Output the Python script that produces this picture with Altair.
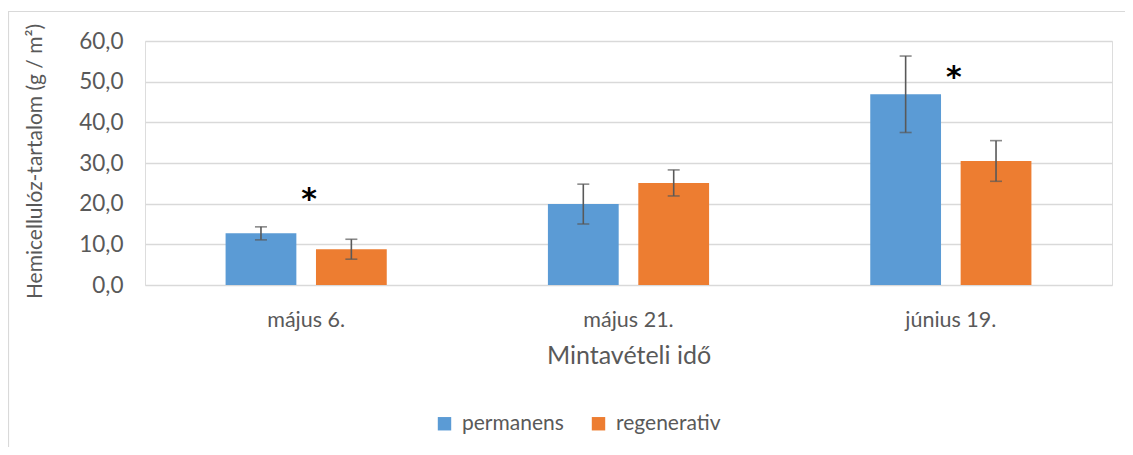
import altair as alt
import pandas as pd

categories = ["május 6.", "május 21.", "június 19."]
series = ["permanens", "regenerativ"]
permanens = [12.7, 19.9, 46.9]
permanens_err = [1.6, 4.9, 9.4]
regenerativ = [8.8, 25.1, 30.5]
regenerativ_err = [2.45, 3.2, 5.0]
star_categories = ["május 6.", "június 19."]
star_values = [21.0, 51.0]

rows = []
for i, c in enumerate(categories):
    rows.append({"cat": c, "series": "permanens", "v": permanens[i],
                 "lo": permanens[i] - permanens_err[i], "hi": permanens[i] + permanens_err[i]})
    rows.append({"cat": c, "series": "regenerativ", "v": regenerativ[i],
                 "lo": regenerativ[i] - regenerativ_err[i], "hi": regenerativ[i] + regenerativ_err[i]})
df = pd.DataFrame(rows)
stars = pd.DataFrame({"cat": star_categories, "v": star_values, "t": ["*", "*"]})

FONT = "Lato"
GREY = "#595959"

xscale = alt.Scale(domain=categories, paddingInner=0.5, paddingOuter=0.25)
xoff_scale = alt.Scale(domain=series, paddingInner=0.217, paddingOuter=0)
yscale = alt.Scale(domain=[0, 60], nice=False)

x = alt.X("cat:N", scale=xscale, sort=categories,
          axis=alt.Axis(title="Mintavételi idő", labelAngle=0, ticks=False, domain=False,
                        labelPadding=24, labelFontSize=21.5, labelColor=GREY, labelFont=FONT,
                        titleFontSize=25, titleFont=FONT, titleColor=GREY, titleFontWeight="normal",
                        titleY=70, titleBaseline="middle"))
y = alt.Y("v:Q", scale=yscale,
          axis=alt.Axis(title="Hemicellulóz-tartalom (g / m²)", values=[0, 10, 20, 30, 40, 50, 60],
                        format=".1f", labelExpr="replace(datum.label, '.', ',')",
                        ticks=False, domain=False, labelPadding=22, labelFontSize=22.5,
                        labelColor=GREY, labelFont=FONT, gridColor="#d9d9d9", gridWidth=1.3,
                        titleFontSize=21, titleFont=FONT, titleColor=GREY, titleFontWeight="normal",
                        titleX=-110, titleY=120, titleAngle=-90, titleAlign="center",
                        titleBaseline="middle"))

bars = alt.Chart(df).mark_bar().encode(
    x=x,
    xOffset=alt.XOffset("series:N", scale=xoff_scale, sort=series),
    y=y,
    color=alt.Color("series:N", sort=series,
                    scale=alt.Scale(domain=series, range=["#5B9BD5", "#ED7D31"]),
                    legend=alt.Legend(title=None, orient="none", direction="horizontal",
                                      legendX=289, legendY=372, symbolType="square",
                                      symbolSize=180, symbolStrokeWidth=0, labelFontSize=21,
                                      labelFont=FONT, labelColor=GREY, columnPadding=24,
                                      labelOffset=7)),
)

rules = alt.Chart(df).mark_rule(color=GREY, strokeWidth=1.6).encode(
    x=alt.X("cat:N", scale=xscale, sort=categories),
    xOffset=alt.XOffset("series:N", scale=xoff_scale, sort=series),
    y=alt.Y("lo:Q", scale=yscale),
    y2="hi:Q",
)
caps_hi = alt.Chart(df).mark_tick(color=GREY, thickness=1.6, size=12).encode(
    x=alt.X("cat:N", scale=xscale, sort=categories),
    xOffset=alt.XOffset("series:N", scale=xoff_scale, sort=series),
    y=alt.Y("hi:Q", scale=yscale),
)
caps_lo = alt.Chart(df).mark_tick(color=GREY, thickness=1.6, size=12).encode(
    x=alt.X("cat:N", scale=xscale, sort=categories),
    xOffset=alt.XOffset("series:N", scale=xoff_scale, sort=series),
    y=alt.Y("lo:Q", scale=yscale),
)
star_text = alt.Chart(stars).mark_text(fontSize=30, font="DejaVu Sans", fontWeight="bold",
                                       color="black", baseline="middle", dx=3).encode(
    x=alt.X("cat:N", scale=xscale, sort=categories),
    y=alt.Y("v:Q", scale=yscale),
    text="t:N",
)

frame = alt.Chart(pd.DataFrame({"a": [0]})).mark_rect(
    fill=None, fillOpacity=0, stroke="#d9d9d9", strokeWidth=1.2
).encode(
    x=alt.value(-136.5), x2=alt.value(1100), y=alt.value(-29.5), y2=alt.value(600)
)

chart = alt.layer(frame, bars, rules, caps_hi, caps_lo, star_text).properties(
    width=967, height=244,
    autosize=alt.AutoSizeParams(type="none"),
    padding={"left": 137, "top": 33, "right": 13, "bottom": 162},
).configure_view(stroke=None).configure(background="white")

chart.save("out.html", embed_options={"renderer": "svg", "actions": False})
